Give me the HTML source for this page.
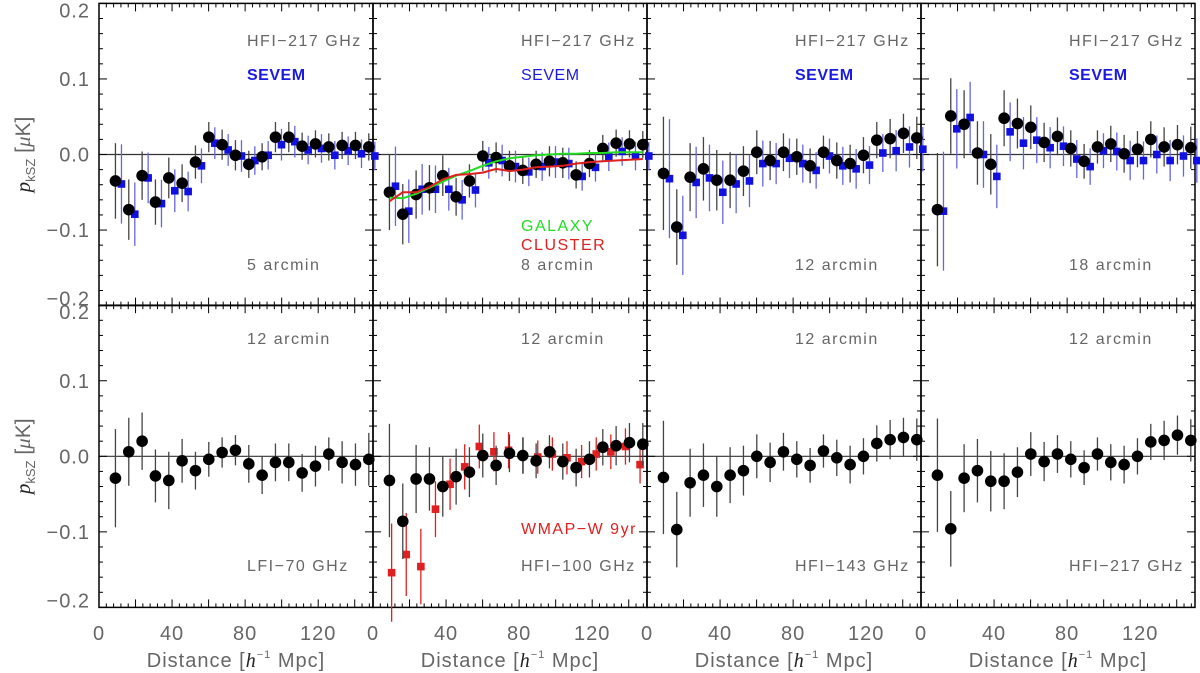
<!DOCTYPE html>
<html><head><meta charset="utf-8"><style>
html,body{margin:0;padding:0;background:#fff;}
svg{display:block;font-family:"Liberation Sans",sans-serif;}
</style></head><body>
<svg id="chart" width="1200" height="673" viewBox="0 0 1200 673" xmlns="http://www.w3.org/2000/svg"></svg>
<script>
// ---- data ----
const xStep = 7.3, xStart = 9;
const p1Black = [-0.035,-0.073,-0.028,-0.063,-0.031,-0.038,-0.010,0.023,0.013,-0.001,-0.013,-0.003,0.023,0.023,0.011,0.014,0.010,0.012,0.012,0.010];
const p1Blue  = [-0.039,-0.079,-0.031,-0.065,-0.048,-0.049,-0.015,0.015,0.006,-0.002,-0.008,-0.001,0.013,0.017,0.006,0.008,-0.001,0.005,0.001,-0.002];
const p2Black = [-0.050,-0.079,-0.053,-0.044,-0.028,-0.056,-0.035,-0.002,-0.004,-0.015,-0.021,-0.013,-0.009,-0.011,-0.027,-0.012,0.008,0.015,0.014,0.013];
const p2Blue  = [-0.042,-0.075,-0.046,-0.046,-0.046,-0.060,-0.047,-0.011,-0.008,-0.016,-0.023,-0.016,-0.010,-0.012,-0.029,-0.017,-0.003,0.004,-0.002,-0.002];
const p2Galaxy  = [-0.057,-0.058,-0.052,-0.044,-0.036,-0.028,-0.022,-0.015,-0.009,-0.005,-0.003,-0.001,0.0,0.001,0.001,0.002,0.002,0.003,0.003,0.003];
const p2Cluster = [-0.062,-0.050,-0.050,-0.043,-0.033,-0.027,-0.026,-0.024,-0.019,-0.022,-0.020,-0.017,-0.016,-0.015,-0.012,-0.010,-0.009,-0.008,-0.007,-0.006];
const p3Black = [-0.025,-0.096,-0.030,-0.019,-0.034,-0.034,-0.022,0.003,-0.008,0.003,-0.003,-0.015,0.003,-0.008,-0.012,-0.001,0.019,0.021,0.028,0.022];
const p3Blue  = [-0.032,-0.107,-0.037,-0.031,-0.050,-0.039,-0.035,-0.012,-0.012,-0.005,-0.012,-0.021,-0.002,-0.015,-0.019,-0.014,0.002,0.005,0.010,0.007];
const p4Black = [-0.073,0.051,0.040,0.002,-0.013,0.048,0.041,0.036,0.016,0.024,0.008,-0.009,0.010,0.014,0.001,0.007,0.020,0.010,0.013,0.009];
const p4Blue  = [-0.075,0.034,0.049,0.000,-0.029,0.030,0.015,0.019,0.009,0.011,-0.006,-0.016,0.005,0.004,-0.008,-0.008,0.000,-0.008,-0.002,-0.008];
const p5Black = [-0.029,0.006,0.020,-0.026,-0.032,-0.006,-0.019,-0.004,0.005,0.008,-0.010,-0.025,-0.008,-0.008,-0.022,-0.013,0.003,-0.008,-0.011,-0.004];
const p6Black = [-0.032,-0.086,-0.030,-0.030,-0.040,-0.027,-0.021,0.001,-0.012,0.004,0.001,-0.006,0.006,-0.007,-0.015,-0.004,0.012,0.014,0.018,0.016];
const p6Red   = [-0.154,-0.130,-0.146,-0.070,-0.037,-0.014,0.013,0.006,0.008,0.001,-0.001,0.003,-0.002,-0.007,0.003,0.006,0.013,-0.011];
const p6RedErr= [0.065,0.055,0.05,0.037,0.034,0.030,0.029,0.026,0.024,0.024,0.022,0.022,0.022,0.022,0.022,0.023,0.024,0.025];
const p7Black = [-0.028,-0.097,-0.035,-0.025,-0.040,-0.025,-0.019,0.0,-0.008,0.006,-0.004,-0.012,0.007,-0.002,-0.011,0.0,0.017,0.022,0.025,0.022];
const p8Black = [-0.025,-0.096,-0.029,-0.019,-0.033,-0.033,-0.021,0.003,-0.007,0.003,-0.004,-0.015,0.003,-0.008,-0.011,0.0,0.019,0.021,0.028,0.021];
const errA = [0.05,0.04,0.032,0.03,0.027,0.025,0.022,0.02,0.02,0.02,0.018,0.018,0.02,0.02,0.018,0.018,0.018,0.018,0.018,0.018];
const errB = [0.075,0.05,0.045,0.042,0.04,0.037,0.033,0.029,0.026,0.025,0.024,0.023,0.022,0.024,0.025,0.024,0.024,0.026,0.026,0.028];
const errC = [0.065,0.045,0.038,0.035,0.038,0.029,0.025,0.023,0.02,0.02,0.025,0.025,0.025,0.025,0.025,0.027,0.022,0.028,0.028,0.035];
const xTicks = [0,40,80,120];
const yTicks = [-0.2,-0.1,0.0,0.1,0.2];
const yTickLabels = ["\u22120.2","\u22120.1","0.0","0.1","0.2"];

// ---- layout ----
const NS="http://www.w3.org/2000/svg";
const svg=document.getElementById('chart');
const PL=[99,373,647,921], PW=274, XMAX=150;
const rows=[{top:3.5,zero:154.5},{top:305.3,zero:456.3}];
const PXU=755.5;
const TXT='#666';
function sx(p,v){return PL[p]+v/XMAX*PW;}
function sy(r,v){return rows[r].zero-v*PXU;}
function mk(tag,attrs,parent){const e=document.createElementNS(NS,tag);for(const k in attrs)e.setAttribute(k,attrs[k]);(parent||svg).appendChild(e);return e;}
function txt(s,x,y,opts,parent){const e=mk('text',Object.assign({x:x,y:y,'font-size':16,fill:TXT,'letter-spacing':1.5},opts||{}),parent);e.textContent=s;return e;}

function frame(p,r){
  const g=mk('g',{});
  
  
  const x0=PL[p],x1=PL[p]+PW,y0=sy(r,0.2),y1=sy(r,-0.2);
  const z=mk('line',{x1:x0,x2:x1,y1:sy(r,0),y2:sy(r,0),stroke:'#333','stroke-width':1.2},g);
  
  
  for(let v=0;v<=XMAX;v+=4){const len=(v%20===0)?8:4;const X=sx(p,v);
    mk('line',{x1:X,x2:X,y1:y1,y2:y1-len,stroke:'#000','stroke-width':1},g);
    mk('line',{x1:X,x2:X,y1:y0,y2:y0+len,stroke:'#000','stroke-width':1},g);}
  for(let i=-10;i<=10;i++){const v=i*0.02;const len=(i%5===0)?8:4;const Y=sy(r,v);
    mk('line',{x1:x0,x2:x0+len,y1:Y,y2:Y,stroke:'#000','stroke-width':1},g);
    mk('line',{x1:x1,x2:x1-len,y1:Y,y2:Y,stroke:'#000','stroke-width':1},g);}
  const b=mk('rect',{x:x0,y:y0,width:PW,height:y1-y0,fill:'none',stroke:'#000','stroke-width':1.5},g);
  
  
  return g;
}
function series(p,r,vals,errs,kind,color,barColor,xoff,step){
  const g=mk('g',{});
  
  
  vals.forEach((v,i)=>{
    const X=sx(p,xoff+i*step);
    const e=errs[i];
    const l=mk('line',{x1:X,x2:X,y1:sy(r,v-e),y2:sy(r,v+e),stroke:barColor,'stroke-width':1.3},g);
    
    
    let m;
    if(kind==='circle'){m=mk('circle',{cx:X,cy:sy(r,v),r:5.8,fill:'#000'},g);}
    else{m=mk('rect',{x:X-3.8,y:sy(r,v)-3.8,width:7.6,height:7.6,fill:color},g);}
    
    
  });
}
function line(p,r,vals,color,name){
  const pts=vals.map((v,i)=>sx(p,xStart+i*xStep).toFixed(1)+','+sy(r,v).toFixed(1)).join(' ');
  const l=mk('polyline',{points:pts,fill:'none',stroke:color,'stroke-width':2});
  
  
}

for(let r=0;r<2;r++)for(let p=0;p<4;p++)frame(p,r);

const topData=[[p1Black,p1Blue,errA],[p2Black,p2Blue,errA],[p3Black,p3Blue,errB],[p4Black,p4Blue,errB]];
topData.forEach((d,p)=>{
  const blueErr=d[2].map(e=>e*1.05);
  series(p,0,d[1],blueErr,'square','#1010e0','#6666dd',xStart+3.3,xStep);
  series(p,0,d[0],d[2],'circle','#000','#444',xStart,xStep);
});
line(1,0,p2Galaxy,'#22dd22','galaxy-line');
line(1,0,p2Cluster,'#dd2020','cluster-line');
series(0,1,p5Black,errC,'circle','#000','#444',xStart,xStep);
series(1,1,p6Red,p6RedErr,'square','#e02020','#e02020',10.2,8);
series(1,1,p6Black,errB,'circle','#000','#444',xStart,xStep);
series(2,1,p7Black,errB,'circle','#000','#444',xStart,xStep);
series(3,1,p8Black,errB,'circle','#000','#444',xStart,xStep);

const topArc=['5 arcmin','8 arcmin','12 arcmin','18 arcmin'];
for(let p=0;p<4;p++){
  const L=PL[p]+148;
  let t=txt('HFI\u2212217 GHz',L,46);
  t=txt('SEVEM',L,80,{fill:'#1a1ae0','font-weight':p===1?'normal':'bold','letter-spacing':0.5});
  t=txt(topArc[p],L,270);
  t=txt('12 arcmin',PL[p]+148,344);
}
let t=txt('GALAXY',PL[1]+148,231,{fill:'#22dd22'});
t=txt('CLUSTER',PL[1]+148,250,{fill:'#dd2020'});
t=txt('WMAP\u2212W 9yr',PL[1]+148,534,{fill:'#e02020'});
const botFreq=['LFI\u221270 GHz','HFI\u2212100 GHz','HFI\u2212143 GHz','HFI\u2212217 GHz'];
botFreq.forEach((s,p)=>{const e=txt(s,PL[p]+148,571);});

for(let r=0;r<2;r++){
  yTicks.forEach((v,i)=>{
    let nudge=0;
    if(v>=0.2)nudge=7;
    if(v<=-0.2)nudge=-7;
    const e=txt(yTickLabels[i],90,sy(r,v)+7+nudge,{'font-size':20,'text-anchor':'end','letter-spacing':1});
    });
  const c=rows[r].zero;
  const yt=mk('text',{x:0,y:0,'font-size':21,fill:TXT,transform:'translate(30,'+c+') rotate(-90)','text-anchor':'middle','font-family':'"Liberation Serif",serif'});
  
  
  yt.innerHTML='<tspan font-style="italic" fill="#222">p</tspan><tspan font-size="13" dy="5" font-family="Liberation Sans">kSZ</tspan><tspan dy="-5" font-family="Liberation Sans"> [</tspan><tspan font-style="italic">\u03bc</tspan><tspan font-family="Liberation Sans">K]</tspan>';
}
for(let p=0;p<4;p++){
  xTicks.forEach(v=>{const e=txt(String(v),sx(p,v),640,{'font-size':20,'text-anchor':'middle','letter-spacing':1});
    });
  const xt=mk('text',{x:PL[p]+PW/2,y:667,'font-size':20,fill:TXT,'text-anchor':'middle','letter-spacing':1});
  
  
  xt.innerHTML='Distance [<tspan font-style="italic" font-family="Liberation Serif" fill="#222">h</tspan><tspan font-size="11" dy="-9">\u22121</tspan><tspan dy="9"> Mpc]</tspan>';
}
</script>
</body></html>
